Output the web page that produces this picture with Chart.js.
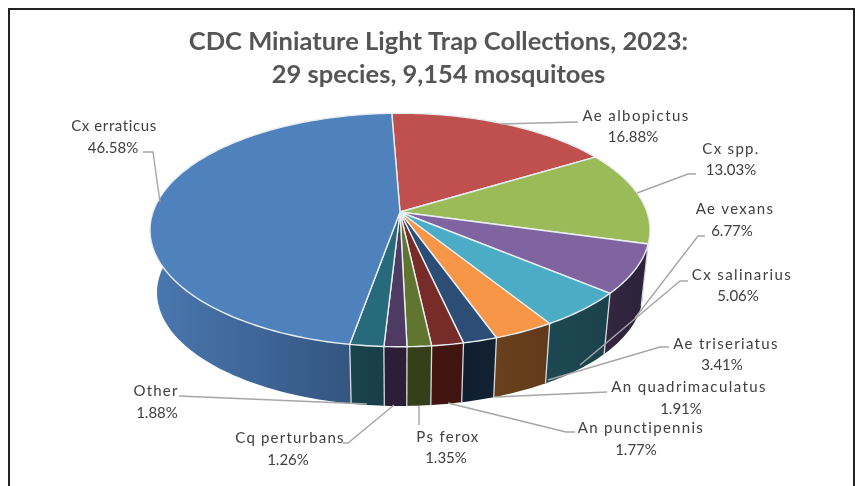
<!DOCTYPE html>
<html>
<head>
<meta charset="utf-8">
<script src="https://cdn.jsdelivr.net/npm/chart.js@4"></script>
<style>
  html, body { margin: 0; background: #fff; }
  #wrap { position: relative; width: 855px; height: 486px; overflow: hidden; }
  #frame { position: absolute; left: 8px; top: 8px; width: 843px; height: 490px; border: 2px solid #222; }
  canvas { position: absolute; left: 0; top: 0; filter: blur(0.35px); }
</style>
</head>
<body>
<div id="wrap">
  <div id="frame"></div>
  <canvas id="pie" width="855" height="486"></canvas>
</div>
<script>
const species = ["Ae albopictus", "Cx spp.", "Ae vexans", "Cx salinarius", "Ae triseriatus", "An quadrimaculatus", "An punctipennis", "Ps ferox", "Cq perturbans", "Other", "Cx erraticus"];
const percents = [16.88, 13.03, 6.77, 5.06, 3.41, 1.91, 1.77, 1.35, 1.26, 1.88, 46.58];
const topColors = ["#C0504D", "#9BBB59", "#8064A2", "#4BACC6", "#F79646", "#2C4D75", "#772C2A", "#5F7530", "#4D3B62", "#276A7C", "#4F81BD"];
const wallLeft = ["#6e2d2b", "#5a6e33", "#33263f", "#1c4853", "#6a411d", "#101f30", "#431512", "#36401a", "#2b1f38", "#1a434e", "#4a78b0"];
const wallRight = ["#6e2d2b", "#5a6e33", "#2e2239", "#1c424c", "#613a1b", "#122233", "#3f1411", "#343e19", "#2b1f38", "#173e49", "#2f4e77"];

// name centre x, name y, percent centre x, percent y, name letter spacing
const labelPos = [[636, 116, 633, 137, 1.4], [731, 149, 731, 170, 1.3], [735, 209, 732, 231, 1.3], [742, 275, 738, 296, 1.4], [726, 344, 722, 365, 1.3], [689, 387, 681, 409, 1.4], [641, 428, 636, 450, 1.3], [448, 437, 446, 458, 1.3], [290, 438, 288, 460, 1.2], [156, 391, 157, 413, 1.2], [114, 126, 113, 148, 0.6]];
// leader lines, from the text to the slice
const leaders = [
  [[578, 122], [500, 124]],
  [[696, 174], [688, 174], [637, 193]],
  [[705, 236], [698, 236], [635, 318]],
  [[688, 281], [680, 281], [580, 365]],
  [[669, 347], [660, 347], [548, 380]],
  [[607, 392], [495, 397]],
  [[575, 432], [566, 432], [448, 403]],
  [[419, 406], [419, 425]],
  [[343, 443], [348, 443], [394, 405]],
  [[179, 396], [367, 404]],
  [[143, 152], [153, 152], [160, 202]]
];

// perspective of the tilted disc
const CX = 400, TOP_Y = 212, BOTTOM_Y = 275;
const RX = 247, RY = 114, TILT = 0.154, BOTTOM_SCALE = 0.972;

function project(angle, z) {
  const u = Math.cos(angle), v = Math.sin(angle);
  const w = 1 - TILT * v;
  const s = z ? BOTTOM_SCALE : 1;
  return [CX + s * RX * u / w, (z ? BOTTOM_Y : TOP_Y) + s * RY * v / w];
}

function ringPoints(a0, a1, z) {
  const pts = [];
  const n = Math.max(2, Math.ceil((a1 - a0) / 0.02));
  for (let i = 0; i <= n; i++) pts.push(project(a0 + (a1 - a0) * i / n, z));
  return pts;
}

function tracePath(ctx, pts) {
  ctx.beginPath();
  pts.forEach((p, i) => i ? ctx.lineTo(p[0], p[1]) : ctx.moveTo(p[0], p[1]));
}

const pie3d = {
  id: "pie3d",
  beforeDatasetDraw(chart, args) {
    const ctx = chart.ctx;
    const arcs = chart.getDatasetMeta(args.index).data;
    ctx.save();

    // outer walls, back ones first
    const order = arcs.map((a, i) => i).sort((i, j) =>
      Math.sin((arcs[i].startAngle + arcs[i].endAngle) / 2) - Math.sin((arcs[j].startAngle + arcs[j].endAngle) / 2));
    order.forEach(i => {
      const a = arcs[i];
      const upper = ringPoints(a.startAngle, a.endAngle, 0);
      const lower = ringPoints(a.startAngle, a.endAngle, 1);
      const xs = upper.concat(lower).map(p => p[0]);
      const g = ctx.createLinearGradient(Math.min(...xs), 0, Math.max(...xs), 0);
      g.addColorStop(0, wallLeft[i]);
      g.addColorStop(1, wallRight[i]);
      tracePath(ctx, upper.concat(lower.reverse()));
      ctx.closePath();
      ctx.fillStyle = g;
      ctx.fill();
    });

    // dividers on the front wall
    ctx.strokeStyle = "#d5dade";
    ctx.lineWidth = 1.3;
    arcs.forEach(a => {
      if (Math.sin(a.startAngle) < 0.2) return;
      tracePath(ctx, [project(a.startAngle, 0), project(a.startAngle, 1)]);
      ctx.stroke();
    });

    // top faces
    ctx.lineJoin = "round";
    ctx.lineWidth = 1.4;
    ctx.strokeStyle = "#e9eef2";
    arcs.forEach((a, i) => {
      tracePath(ctx, [[CX, TOP_Y]].concat(ringPoints(a.startAngle, a.endAngle, 0)));
      ctx.closePath();
      ctx.fillStyle = topColors[i];
      ctx.fill();
      ctx.stroke();
    });
    ctx.restore();
    return false;
  },
  afterDraw(chart) {
    const ctx = chart.ctx;
    ctx.save();
    ctx.strokeStyle = "#a6a6a6";
    ctx.lineWidth = 1.4;
    leaders.forEach(line => { tracePath(ctx, line); ctx.stroke(); });

    ctx.fillStyle = "#404040";
    ctx.font = "15px Lato";
    ctx.textAlign = "center";
    ctx.textBaseline = "middle";
    species.forEach((name, i) => {
      const [nx, ny, px, py, sp] = labelPos[i];
      ctx.letterSpacing = sp + "px";
      ctx.fillText(name, nx, ny);
      ctx.letterSpacing = "0px";
      ctx.fillText(percents[i].toFixed(2) + "%", px, py);
    });
    ctx.restore();
  }
};

new Chart(document.getElementById("pie"), {
  type: "pie",
  data: { labels: species, datasets: [{ data: percents, backgroundColor: topColors }] },
  options: {
    responsive: false,
    animation: false,
    rotation: -2.2,
    layout: { padding: { left: 22 } },
    plugins: {
      legend: { display: false },
      tooltip: { enabled: false },
      title: {
        display: true,
        text: ["CDC Miniature Light Trap Collections, 2023:", "29 species, 9,154 mosquitoes"],
        color: "#555555",
        font: { family: "Lato", size: 25.5, weight: "bold", lineHeight: 1.29 },
        padding: { top: 25, bottom: 10 }
      }
    }
  },
  plugins: [pie3d]
});
</script>
</body>
</html>
